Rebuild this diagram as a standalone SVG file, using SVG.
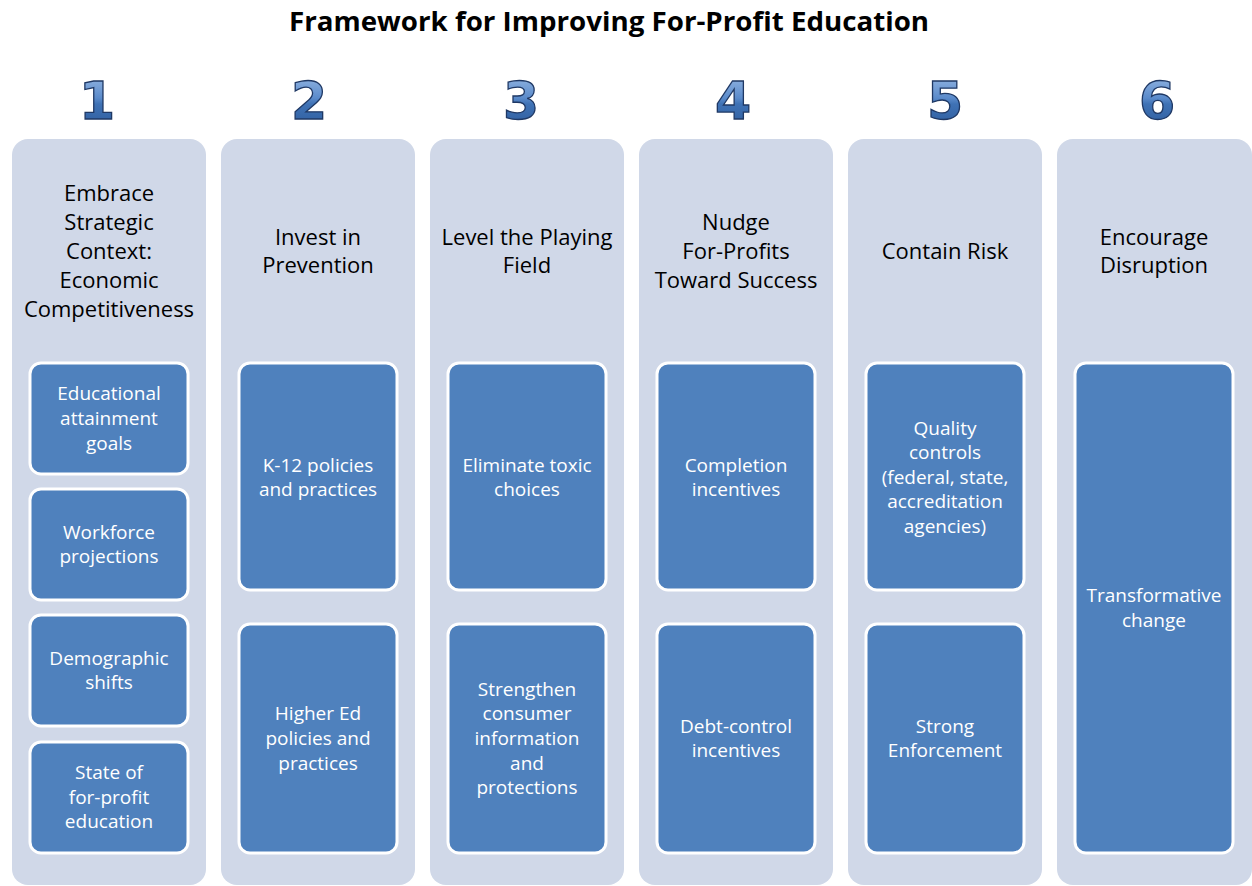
<svg xmlns="http://www.w3.org/2000/svg" width="1252" height="886" viewBox="0 0 1252 886">
  <defs>
    <linearGradient id="numFill" x1="0" y1="0" x2="0" y2="1">
      <stop offset="0" stop-color="#9DBDE6"/>
      <stop offset="0.45" stop-color="#5B8BCB"/>
      <stop offset="0.55" stop-color="#3F72B5"/>
      <stop offset="1" stop-color="#2C5A9A"/>
    </linearGradient>
    <style>
      .title { font-family: "Open Sans", "Liberation Sans", sans-serif; font-weight: bold; font-size: 27px; fill: #000; }
      .num { font-family: "DejaVu Sans", sans-serif; font-weight: bold; font-size: 52px; fill: url(#numFill); stroke: #1F3864; stroke-width: 1.3; text-anchor: middle; }
      .col { fill: #D0D8E8; }
      .box { fill: #4F81BD; stroke: #FFFFFF; stroke-width: 3; }
      .head { font-family: "Open Sans", "Liberation Sans", sans-serif; font-size: 22px; fill: #000; text-anchor: middle; }
      .item { font-family: "Open Sans", "Liberation Sans", sans-serif; font-size: 19px; fill: #FFFFFF; text-anchor: middle; }
    </style>
  </defs>

  <rect width="1252" height="886" fill="#FFFFFF"/>

  <text class="title" x="609" y="31" text-anchor="middle" textLength="640" lengthAdjust="spacingAndGlyphs">Framework for Improving For-Profit Education</text>

  <!-- step numbers -->
  <g id="numbers">
    <text class="num" x="97" y="119">1</text>
    <text class="num" x="309" y="119">2</text>
    <text class="num" x="521" y="119">3</text>
    <text class="num" x="733" y="119">4</text>
    <text class="num" x="945" y="119">5</text>
    <text class="num" x="1157" y="119">6</text>
  </g>

  <!-- column 1 -->
  <g id="col1">
    <rect class="col" x="12" y="139" width="194" height="746" rx="16"/>
    <text class="head" x="109" y="201">Embrace</text>
    <text class="head" x="109" y="230">Strategic</text>
    <text class="head" x="109" y="259">Context:</text>
    <text class="head" x="109" y="288">Economic</text>
    <text class="head" x="109" y="317">Competitiveness</text>
  </g>
  <g id="col1-item1">
    <rect class="box" x="30" y="363" width="158" height="111" rx="11"/>
    <text class="item" x="109" y="400">Educational</text>
    <text class="item" x="109" y="425">attainment</text>
    <text class="item" x="109" y="450">goals</text>
  </g>
  <g id="col1-item2">
    <rect class="box" x="30" y="489" width="158" height="111" rx="11"/>
    <text class="item" x="109" y="539">Workforce</text>
    <text class="item" x="109" y="563">projections</text>
  </g>
  <g id="col1-item3">
    <rect class="box" x="30" y="615" width="158" height="111" rx="11"/>
    <text class="item" x="109" y="665">Demographic</text>
    <text class="item" x="109" y="689">shifts</text>
  </g>
  <g id="col1-item4">
    <rect class="box" x="30" y="742" width="158" height="111" rx="11"/>
    <text class="item" x="109" y="779">State of</text>
    <text class="item" x="109" y="804">for-profit</text>
    <text class="item" x="109" y="828">education</text>
  </g>

  <!-- column 2 -->
  <g id="col2">
    <rect class="col" x="221" y="139" width="194" height="746" rx="16"/>
    <text class="head" x="318" y="245">Invest in</text>
    <text class="head" x="318" y="273">Prevention</text>
  </g>
  <g id="col2-item1">
    <rect class="box" x="239" y="363" width="158" height="227" rx="11"/>
    <text class="item" x="318" y="472">K-12 policies</text>
    <text class="item" x="318" y="496">and practices</text>
  </g>
  <g id="col2-item2">
    <rect class="box" x="239" y="624" width="158" height="229" rx="11"/>
    <text class="item" x="318" y="720">Higher Ed</text>
    <text class="item" x="318" y="745">policies and</text>
    <text class="item" x="318" y="770">practices</text>
  </g>

  <!-- column 3 -->
  <g id="col3">
    <rect class="col" x="430" y="139" width="194" height="746" rx="16"/>
    <text class="head" x="527" y="245">Level the Playing</text>
    <text class="head" x="527" y="273">Field</text>
  </g>
  <g id="col3-item1">
    <rect class="box" x="448" y="363" width="158" height="227" rx="11"/>
    <text class="item" x="527" y="472">Eliminate toxic</text>
    <text class="item" x="527" y="496">choices</text>
  </g>
  <g id="col3-item2">
    <rect class="box" x="448" y="624" width="158" height="229" rx="11"/>
    <text class="item" x="527" y="696">Strengthen</text>
    <text class="item" x="527" y="720">consumer</text>
    <text class="item" x="527" y="745">information</text>
    <text class="item" x="527" y="770">and</text>
    <text class="item" x="527" y="794">protections</text>
  </g>

  <!-- column 4 -->
  <g id="col4">
    <rect class="col" x="639" y="139" width="194" height="746" rx="16"/>
    <text class="head" x="736" y="230">Nudge</text>
    <text class="head" x="736" y="259">For-Profits</text>
    <text class="head" x="736" y="288">Toward Success</text>
  </g>
  <g id="col4-item1">
    <rect class="box" x="657" y="363" width="158" height="227" rx="11"/>
    <text class="item" x="736" y="472">Completion</text>
    <text class="item" x="736" y="496">incentives</text>
  </g>
  <g id="col4-item2">
    <rect class="box" x="657" y="624" width="158" height="229" rx="11"/>
    <text class="item" x="736" y="733">Debt-control</text>
    <text class="item" x="736" y="757">incentives</text>
  </g>

  <!-- column 5 -->
  <g id="col5">
    <rect class="col" x="848" y="139" width="194" height="746" rx="16"/>
    <text class="head" x="945" y="259">Contain Risk</text>
  </g>
  <g id="col5-item1">
    <rect class="box" x="866" y="363" width="158" height="227" rx="11"/>
    <text class="item" x="945" y="435">Quality</text>
    <text class="item" x="945" y="459">controls</text>
    <text class="item" x="945" y="484">(federal, state,</text>
    <text class="item" x="945" y="508">accreditation</text>
    <text class="item" x="945" y="533">agencies)</text>
  </g>
  <g id="col5-item2">
    <rect class="box" x="866" y="624" width="158" height="229" rx="11"/>
    <text class="item" x="945" y="733">Strong</text>
    <text class="item" x="945" y="757">Enforcement</text>
  </g>

  <!-- column 6 -->
  <g id="col6">
    <rect class="col" x="1057" y="139" width="195" height="746" rx="16"/>
    <text class="head" x="1154" y="245">Encourage</text>
    <text class="head" x="1154" y="273">Disruption</text>
  </g>
  <g id="col6-item1">
    <rect class="box" x="1075" y="363" width="158" height="490" rx="11"/>
    <text class="item" x="1154" y="602">Transformative</text>
    <text class="item" x="1154" y="627">change</text>
  </g>

  <!-- no connectors in this layout -->
  <g id="connectors"/>
</svg>
